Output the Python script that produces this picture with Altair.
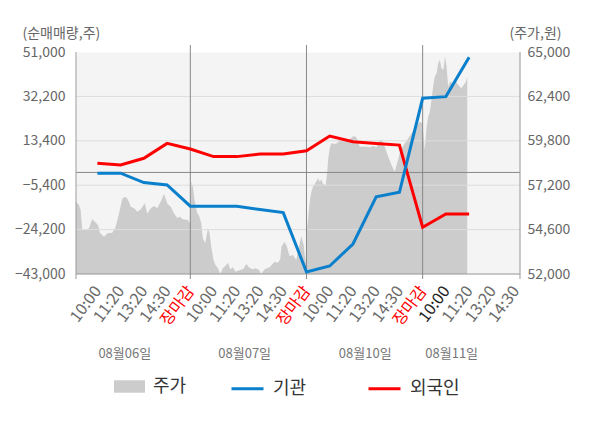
import altair as alt
import pandas as pd

FONT = "Noto Sans CJK KR"

# ---- axis text ----
tick_pos = list(range(1, 20))
tick_labels = ["10:00", "11:20", "13:20", "14:30", "장마감",
               "10:00", "11:20", "13:20", "14:30", "장마감",
               "10:00", "11:20", "13:20", "14:30", "장마감",
               "10:00", "11:20", "13:20", "14:30"]
day_labels = ["08월06일", "08월07일", "08월10일", "08월11일"]
day_label_pos = [2.18, 7.34, 12.53, 16.25]
day_close_pos = [5, 10, 15]

y_left_ticks = [-43000, -24200, -5400, 13400, 32200, 51000]
y_right_ticks = [52000, 54600, 57200, 59800, 62400, 65000]

# ---- net buying (shares) ----
flow_pos = list(range(1, 18))
inst = [-300, -300, -4300, -5300, -14300, -14300, -14300, -15700, -17000,
        -42100, -39600, -30300, -10300, -8400, 31400, 32100, 48800]
foreign = [3900, 3200, 6000, 12300, 9900, 6700, 6700, 7800, 7800,
           9200, 15400, 13000, 12300, 11600, -23200, -17600, -17600]

# ---- price (won) ----
price_pos = [
    0.08, 0.21, 0.28, 0.35, 0.57, 0.64, 0.78, 0.89, 1.03, 1.11, 1.29, 1.43, 1.64,
    1.79, 1.93, 2.08, 2.22, 2.32, 2.44, 2.58, 2.72, 2.87, 3.04, 3.15, 3.30, 3.44,
    3.58, 3.76, 3.87, 4.02, 4.16, 4.30, 4.45,
    4.53, 4.68, 4.89, 4.99, 5.04, 5.11, 5.18, 5.28, 5.39, 5.47, 5.54, 5.64, 5.76,
    5.83, 5.90, 6.00, 6.08, 6.19, 6.29, 6.40, 6.55, 6.62, 6.72, 6.83, 6.95, 7.12,
    7.27, 7.41, 7.52, 7.67, 7.81, 7.96, 8.05, 8.20, 8.41, 8.63, 8.77, 8.87,
    8.92, 9.06, 9.16, 9.27, 9.42, 9.56, 9.68, 9.78, 9.88, 9.96, 10.02, 10.07,
    10.14, 10.21, 10.28, 10.39, 10.50, 10.57, 10.64, 10.71, 10.83, 10.89, 10.93,
    11.00, 11.07, 11.21, 11.36, 11.43, 11.58, 11.72, 11.86, 12.03, 12.15, 12.29,
    12.44, 12.58, 12.72, 12.87, 13.01,
    13.15, 13.27, 13.37, 13.52, 13.66, 13.80, 13.90, 14.05, 14.19, 14.33, 14.45,
    14.56, 14.66, 14.77, 14.88, 14.99, 15.09, 15.17, 15.24, 15.31, 15.38, 15.46,
    15.52, 15.60, 15.67, 15.74, 15.81, 15.89, 15.96, 16.03, 16.10, 16.17, 16.29,
    16.39, 16.53, 16.67, 16.77, 16.86, 16.92]
price_val = [
    56230, 56040, 55750, 54580, 54580, 54690, 55220, 55060, 54870, 54420, 54180,
    54380, 54420, 54770, 55550, 56430, 56530, 56330, 55940, 55850, 55650, 55790,
    56140, 55550, 55850, 55980, 55850, 56330, 56690, 56100, 55940, 55550, 55260,
    55360, 55200, 55160, 54970, 57400, 57110, 56330, 55650, 55360, 54970, 54090,
    53800, 54680, 54380, 53600, 52820, 52530, 52330, 52000, 52330, 52530, 52660,
    52280, 52390, 52130, 52230, 52280, 52590, 52390, 52280, 52330, 52230, 52000,
    52280, 52390, 52720, 52660, 52860,
    53600, 53890, 53600, 53050, 53110, 52820, 53600, 54230, 53700, 52630, 54580,
    55260, 56230, 56820, 57110, 57350, 57600, 57400, 57550, 57270, 57210, 57900,
    58680, 59360, 59650, 59610, 59690, 60000, 59850, 59810, 59890, 60080, 60000,
    59450, 59450, 59450, 59420, 59500, 59420,
    59850, 59810, 59450, 58870, 58380, 57990, 58480, 59260, 59550, 59850, 60080,
    60330, 60530, 60730, 60920, 60830, 59260, 60630, 61210, 61500, 62190, 63070,
    63550, 63750, 64340, 64530, 64050, 63950, 64730, 64140, 62970, 63260, 63170,
    63360, 63070, 62880, 63070, 63260, 63550]

# ---- tables ----
x_dom = [0.08, 19.19]
left_dom = [y_left_ticks[0], y_left_ticks[-1]]
right_dom = [y_right_ticks[0], y_right_ticks[-1]]

price_df = pd.DataFrame({"pos": price_pos, "price": price_val, "kind": "주가"})
flow_df = pd.DataFrame({
    "pos": flow_pos * 2,
    "value": inst + foreign,
    "series": ["기관"] * len(inst) + ["외국인"] * len(foreign),
})
grid_df = pd.DataFrame({"v": y_left_ticks[1:-1]})
zero_df = pd.DataFrame({"v": [0]})
bottom_df = pd.DataFrame({"v": [y_left_ticks[0]]})
close_df = pd.DataFrame({"pos": day_close_pos})
edge_df = pd.DataFrame({"pos": x_dom})
day_df = pd.DataFrame({"pos": day_label_pos, "label": day_labels})
tick_df = pd.DataFrame({"pos": tick_pos, "label": tick_labels})

left_axis = alt.Axis(
    orient="left", values=y_left_ticks, format=",.0f", ticks=False, grid=False,
    domain=False, labelPadding=11, labelFontSize=14, labelColor="#666666",
    title="(순매매량,주)", titleAngle=0, titleAlign="left", titleBaseline="middle",
    titleX=-54, titleY=-19, titleFontSize=14, titleFontWeight="normal",
    titleColor="#666666", labelOverlap=False)

right_axis = alt.Axis(
    orient="right", values=y_right_ticks, format=",.0f", ticks=False, grid=False,
    domain=False, labelPadding=7, labelFontSize=14, labelColor="#666666",
    title="(주가,원)", titleAngle=0, titleAlign="right", titleBaseline="middle",
    titleX=41, titleY=-19, titleFontSize=14, titleFontWeight="normal",
    titleColor="#666666", labelOverlap=False)


def lscale():
    return alt.Scale(domain=left_dom, nice=False, zero=False)


def xenc():
    return alt.X("pos:Q", scale=alt.Scale(domain=x_dom, nice=False, zero=False),
                 axis=None)


area = alt.Chart(price_df).mark_area(color="#cccccc", interpolate="linear").encode(
    x=xenc(),
    y=alt.Y("price:Q", scale=alt.Scale(domain=right_dom, nice=False, zero=False),
            axis=right_axis),
    y2=alt.Y2Datum(y_right_ticks[0]),
    fill=alt.Fill("kind:N", scale=alt.Scale(domain=["주가"], range=["#cccccc"]),
                  legend=alt.Legend(title=None, orient="none", legendX=38, legendY=319,
                                    symbolType="M-1,-0.4L1,-0.4L1,0.4L-1,0.4Z",
                                    symbolSize=961, symbolStrokeWidth=0,
                                    labelFontSize=18, labelColor="#333333",
                                    labelOffset=8)),
)

grid = alt.Chart(grid_df).mark_rule(color="#dddddd", strokeWidth=1).encode(
    y=alt.Y("v:Q", scale=lscale(), axis=None))
zero = alt.Chart(zero_df).mark_rule(color="#888888", strokeWidth=1).encode(
    y=alt.Y("v:Q", scale=lscale(), axis=None))
bottom = alt.Chart(bottom_df).mark_rule(color="#999999", strokeWidth=1).encode(
    y=alt.Y("v:Q", scale=lscale(), axis=None))
vlines = alt.Chart(close_df).mark_rule(color="#888888", strokeWidth=1).encode(
    x=xenc(), y=alt.value(-7), y2=alt.value(227))
edges = alt.Chart(edge_df).mark_rule(color="#999999", strokeWidth=1).encode(
    x=xenc(), y=alt.value(0), y2=alt.value(227))

stroke_scale = alt.Scale(domain=["기관", "외국인"], range=["#0a7fcc", "#ff0000"])
stroke_legend = alt.Legend(title=None, orient="none", legendX=154, legendY=319,
                           direction="horizontal", symbolType="stroke", symbolSize=1024,
                           symbolStrokeWidth=3, columnPadding=55, labelFontSize=18,
                           labelColor="#333333", labelOffset=8)

red_line = alt.Chart(flow_df).transform_filter("datum.series == '외국인'").mark_line(
    strokeWidth=3).encode(
    x=xenc(),
    y=alt.Y("value:Q", scale=lscale(), axis=left_axis),
    stroke=alt.Stroke("series:N", scale=stroke_scale, legend=stroke_legend))
blue_line = alt.Chart(flow_df).transform_filter("datum.series == '기관'").mark_line(
    strokeWidth=3).encode(
    x=xenc(),
    y=alt.Y("value:Q", scale=lscale(), axis=None),
    stroke=alt.Stroke("series:N", scale=stroke_scale, legend=stroke_legend))

tick_text = alt.Chart(tick_df).mark_text(
    fontSize=16, angle=307, align="right", baseline="middle", dx=1).encode(
    x=xenc(), y=alt.value(237), text="label:N",
    color={"condition": [{"test": "datum.label == '장마감'", "value": "#ff0000"},
                         {"test": "datum.pos == 16", "value": "#222222"}],
           "value": "#6a6a6a"})

dates = alt.Chart(day_df).mark_text(fontSize=13, color="#777777",
                                    baseline="middle").encode(
    x=xenc(), y=alt.value(302), text="label:N")

chart = alt.layer(area, grid, zero, bottom, vlines, edges, red_line, blue_line,
                  tick_text, dates).resolve_scale(y="independent").properties(
    width=444, height=222,
    padding={"left": 68, "top": 44, "right": 72, "bottom": 140},
    autosize=alt.AutoSizeParams(type="none"),
).configure(font=FONT).configure_view(fill="#f4f4f4", strokeOpacity=0).configure_axis(
    labelFont=FONT, titleFont=FONT).configure_legend(labelFont=FONT)

chart.save("out.html", embed_options={"renderer": "svg", "actions": False})
